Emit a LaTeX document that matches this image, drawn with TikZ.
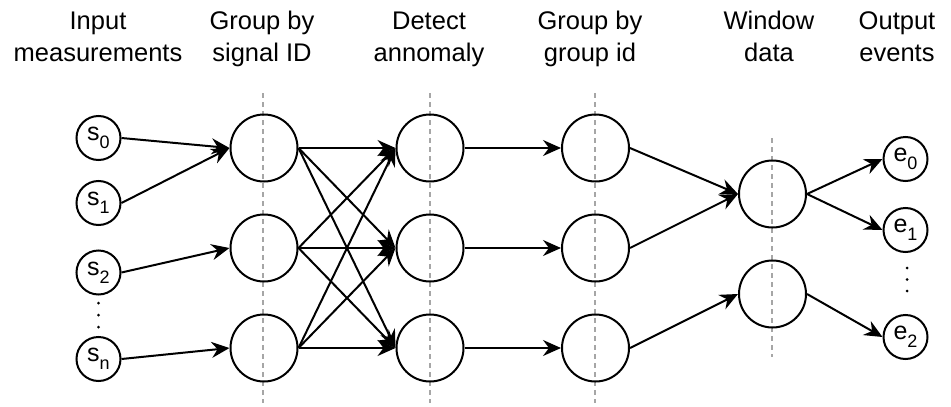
\documentclass[tikz,border=0pt]{standalone}
\usepackage{fontspec}
\setmainfont{Liberation Sans}
\usetikzlibrary{arrows.meta}
\newcommand\subl[2]{#1\raisebox{-7.7pt}{\fontsize{18}{18}\selectfont #2}}
\begin{document}
\begin{tikzpicture}[x=1pt,y=-1pt,
  big/.style={circle, draw, line width=2pt, minimum size=67pt, inner sep=0pt},
  small/.style={circle, draw, line width=2pt, minimum size=44pt, inner sep=0pt,
                font=\fontsize{25}{25}\selectfont},
  link/.style={line width=2pt, -{Stealth[length=18pt,width=16pt,inset=6pt]}},
  guide/.style={draw=black!35, line width=1.6pt, dash pattern=on 5pt off 4pt},
  title/.style={align=center, font=\fontsize{25.5}{32}\selectfont, anchor=base},
  dotmark/.style={circle, fill, inner sep=0pt, minimum size=3pt}]
\useasboundingbox (0,0) rectangle (951,407);

% stage headings (anchored on the baseline of the second line)
\node[title] (t1) at (98,61) {Input\\measurements};
\node[title] (t2) at (262,61) {Group by\\signal ID};
\node[title] (t3) at (429,61) {Detect\\annomaly};
\node[title] (t4) at (590,61) {Group by\\group id};
\node[title] (t5) at (769,61) {Window\\data};
\node[title] (t6) at (897,61) {Output\\events};

% stage guide lines
\coordinate (d1a) at (263,93);  \coordinate (d1b) at (263,403);
\coordinate (d2a) at (430,93);  \coordinate (d2b) at (430,403);
\coordinate (d3a) at (595,93);  \coordinate (d3b) at (595,403);
\coordinate (d4a) at (772,138); \coordinate (d4b) at (772,357);
\draw[guide] (d1a) -- (d1b);
\draw[guide] (d2a) -- (d2b);
\draw[guide] (d3a) -- (d3b);
\draw[guide] (d4a) -- (d4b);

% inputs
\node[small] (s0) at (98.5,138) {\subl{s}{0}};
\node[small] (s1) at (98.5,203) {\subl{s}{1}};
\node[small] (s2) at (98.5,272.5) {\subl{s}{2}};
\node[small] (sn) at (98.5,359) {\subl{s}{n}};
\node[dotmark] (sd1) at (98.5,303) {};
\node[dotmark] (sd2) at (98.5,315) {};
\node[dotmark] (sd3) at (98.5,327) {};

% group by signal ID
\node[big] (ga) at (264,148) {};
\node[big] (gb) at (264,248) {};
\node[big] (gc) at (264,348) {};

% detect anomaly
\node[big] (da) at (430,148) {};
\node[big] (db) at (430,248) {};
\node[big] (dc) at (430,348) {};

% group by group id
\node[big] (ha) at (595.5,148) {};
\node[big] (hb) at (595.5,248) {};
\node[big] (hc) at (595.5,348) {};

% windows
\node[big] (wa) at (772.5,194) {};
\node[big] (wb) at (772.5,294) {};

% outputs
\node[small] (e0) at (905.5,159) {\subl{e}{0}};
\node[small] (e1) at (905.5,230) {\subl{e}{1}};
\node[small] (e2) at (905.5,337) {\subl{e}{2}};
\node[dotmark] (ed1) at (907,268) {};
\node[dotmark] (ed2) at (907,279.5) {};
\node[dotmark] (ed3) at (907,291) {};

% connections
\draw[link] (s0.east) -- (ga.west);
\draw[link] (s1.east) -- (ga.west);
\draw[link] (s2.east) -- (gb.west);
\draw[link] (sn.east) -- (gc.west);
\foreach \a in {ga,gb,gc}
  \foreach \b in {da,db,dc}
    \draw[link] (\a.east) -- (\b.west);
\draw[link] (da.east) -- (ha.west);
\draw[link] (db.east) -- (hb.west);
\draw[link] (dc.east) -- (hc.west);
\draw[link] (ha.east) -- (wa.west);
\draw[link] (hb.east) -- (wa.west);
\draw[link] (hc.east) -- (wb.west);
\draw[link] (wa.east) -- (e0.west);
\draw[link] (wa.east) -- (e1.west);
\draw[link] (wb.east) -- (e2.west);
\end{tikzpicture}
\end{document}
